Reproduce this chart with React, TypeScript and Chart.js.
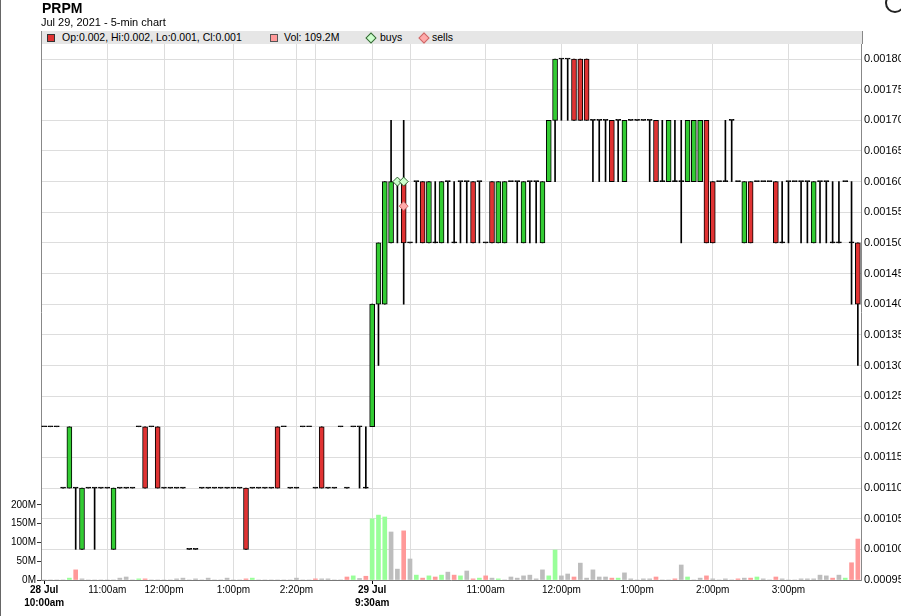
import React, { useEffect, useRef } from 'react';
import { Chart, registerables } from 'chart.js';

Chart.register(...registerables);

// 5-min candles (price in $), Jul 28 10:00am ... Jul 29 3:55pm
const openPx = [
  0.0012, 0.0012, 0.0012, 0.0011, 0.0011, 0.0011, 0.0010, 0.0011, 0.0011, 0.0011,
  0.0011, 0.0010, 0.0011, 0.0011, 0.0011, 0.0012, 0.0012, 0.0012, 0.0012, 0.0011,
  0.0011, 0.0011, 0.0011, 0.0010, 0.0010, 0.0011, 0.0011, 0.0011, 0.0011, 0.0011,
  0.0011, 0.0011, 0.0011, 0.0011, 0.0011, 0.0011, 0.0011, 0.0012, 0.0012, 0.0011,
  0.0011, 0.0012, 0.0012, 0.0011, 0.0012, 0.0011, 0.0011, 0.0012, 0.0011, 0.0012,
  0.0012, 0.0011, 0.0012, 0.0014, 0.0014, 0.0015, 0.0016, 0.0016, 0.0015, 0.0016,
  0.0016, 0.0015, 0.0015, 0.0015, 0.0016, 0.0015, 0.0016, 0.0016, 0.0016, 0.0016,
  0.0015, 0.0016, 0.0015, 0.0015, 0.0016, 0.0016, 0.0015, 0.0016, 0.0016, 0.0015,
  0.0016, 0.0017, 0.0018, 0.0018, 0.0018, 0.0018, 0.0018, 0.0017, 0.0017, 0.0017,
  0.0017, 0.0017, 0.0016, 0.0017, 0.0017, 0.0017, 0.0017, 0.0017, 0.0016, 0.0016,
  0.0016, 0.0016, 0.0016, 0.0016, 0.0016, 0.0017, 0.0016, 0.0016, 0.0016, 0.0017,
  0.0016, 0.0015, 0.0016, 0.0016, 0.0016, 0.0016, 0.0016, 0.0015, 0.0016, 0.0016,
  0.0016, 0.0016, 0.0015, 0.0016, 0.0016, 0.0015, 0.0015, 0.0016, 0.0015, 0.0015,
];
const highPx = [
  0.0012, 0.0012, 0.0012, 0.0011, 0.0012, 0.0011, 0.0011, 0.0011, 0.0011, 0.0011,
  0.0011, 0.0011, 0.0011, 0.0011, 0.0011, 0.0012, 0.0012, 0.0012, 0.0012, 0.0011,
  0.0011, 0.0011, 0.0011, 0.0010, 0.0010, 0.0011, 0.0011, 0.0011, 0.0011, 0.0011,
  0.0011, 0.0011, 0.0011, 0.0011, 0.0011, 0.0011, 0.0011, 0.0012, 0.0012, 0.0011,
  0.0011, 0.0012, 0.0012, 0.0011, 0.0012, 0.0011, 0.0011, 0.0012, 0.0011, 0.0012,
  0.0012, 0.0012, 0.0014, 0.0015, 0.0016, 0.0017, 0.0016, 0.0017, 0.0015, 0.0016,
  0.0016, 0.0016, 0.0016, 0.0016, 0.0016, 0.0016, 0.0016, 0.0016, 0.0016, 0.0016,
  0.0015, 0.0016, 0.0016, 0.0016, 0.0016, 0.0016, 0.0016, 0.0016, 0.0016, 0.0016,
  0.0017, 0.0018, 0.0018, 0.0018, 0.0018, 0.0018, 0.0018, 0.0017, 0.0017, 0.0017,
  0.0017, 0.0017, 0.0017, 0.0017, 0.0017, 0.0017, 0.0017, 0.0017, 0.0017, 0.0017,
  0.0017, 0.0017, 0.0017, 0.0017, 0.0017, 0.0017, 0.0016, 0.0016, 0.0017, 0.0017,
  0.0016, 0.0016, 0.0016, 0.0016, 0.0016, 0.0016, 0.0016, 0.0016, 0.0016, 0.0016,
  0.0016, 0.0016, 0.0016, 0.0016, 0.0016, 0.0016, 0.0016, 0.0016, 0.0016, 0.0015,
];
const lowPx = [
  0.0012, 0.0012, 0.0012, 0.0011, 0.0011, 0.0010, 0.0010, 0.0011, 0.0010, 0.0011,
  0.0011, 0.0010, 0.0011, 0.0011, 0.0011, 0.0012, 0.0011, 0.0012, 0.0011, 0.0011,
  0.0011, 0.0011, 0.0011, 0.0010, 0.0010, 0.0011, 0.0011, 0.0011, 0.0011, 0.0011,
  0.0011, 0.0011, 0.0010, 0.0011, 0.0011, 0.0011, 0.0011, 0.0011, 0.0012, 0.0011,
  0.0011, 0.0012, 0.0012, 0.0011, 0.0011, 0.0011, 0.0011, 0.0012, 0.0011, 0.0012,
  0.0011, 0.0011, 0.0012, 0.0013, 0.0014, 0.0015, 0.0015, 0.0014, 0.0015, 0.0015,
  0.0015, 0.0015, 0.0015, 0.0015, 0.0015, 0.0015, 0.0015, 0.0015, 0.0015, 0.0015,
  0.0015, 0.0015, 0.0015, 0.0015, 0.0016, 0.0015, 0.0015, 0.0015, 0.0015, 0.0015,
  0.0016, 0.0016, 0.0017, 0.0017, 0.0017, 0.0017, 0.0017, 0.0016, 0.0016, 0.0016,
  0.0016, 0.0016, 0.0016, 0.0017, 0.0017, 0.0017, 0.0016, 0.0016, 0.0016, 0.0016,
  0.0016, 0.0015, 0.0016, 0.0016, 0.0016, 0.0015, 0.0015, 0.0016, 0.0016, 0.0016,
  0.0016, 0.0015, 0.0015, 0.0016, 0.0016, 0.0016, 0.0015, 0.0015, 0.0015, 0.0016,
  0.0015, 0.0015, 0.0015, 0.0015, 0.0015, 0.0015, 0.0015, 0.0016, 0.0014, 0.0013,
];
const closePx = [
  0.0012, 0.0012, 0.0012, 0.0011, 0.0012, 0.0011, 0.0011, 0.0011, 0.0011, 0.0011,
  0.0011, 0.0011, 0.0011, 0.0011, 0.0011, 0.0012, 0.0011, 0.0012, 0.0011, 0.0011,
  0.0011, 0.0011, 0.0011, 0.0010, 0.0010, 0.0011, 0.0011, 0.0011, 0.0011, 0.0011,
  0.0011, 0.0011, 0.0010, 0.0011, 0.0011, 0.0011, 0.0011, 0.0011, 0.0012, 0.0011,
  0.0011, 0.0012, 0.0012, 0.0011, 0.0011, 0.0011, 0.0011, 0.0012, 0.0011, 0.0012,
  0.0012, 0.0011, 0.0014, 0.0015, 0.0016, 0.0016, 0.0016, 0.0015, 0.0015, 0.0016,
  0.0015, 0.0016, 0.0015, 0.0016, 0.0016, 0.0015, 0.0016, 0.0016, 0.0015, 0.0016,
  0.0015, 0.0015, 0.0016, 0.0016, 0.0016, 0.0016, 0.0016, 0.0016, 0.0016, 0.0016,
  0.0017, 0.0018, 0.0018, 0.0018, 0.0017, 0.0017, 0.0017, 0.0017, 0.0017, 0.0017,
  0.0016, 0.0017, 0.0017, 0.0017, 0.0017, 0.0017, 0.0017, 0.0016, 0.0016, 0.0017,
  0.0016, 0.0016, 0.0017, 0.0017, 0.0017, 0.0015, 0.0015, 0.0016, 0.0016, 0.0017,
  0.0016, 0.0016, 0.0015, 0.0016, 0.0016, 0.0016, 0.0015, 0.0015, 0.0016, 0.0016,
  0.0016, 0.0016, 0.0016, 0.0016, 0.0016, 0.0015, 0.0015, 0.0016, 0.0015, 0.0014,
];
// volume in millions of shares
const volumeM = [
  0, 0, 0, 0, 5, 27, 3, 0, 0, 0,
  0, 0, 5, 8, 0, 3, 3, 0, 0, 0,
  0, 3, 5, 0, 3, 0, 5, 0, 0, 5,
  0, 0, 3, 5, 0, 0, 0, 0, 0, 0,
  5, 0, 0, 3, 3, 3, 0, 0, 8, 11,
  4, 10, 163, 173, 168, 128, 29, 131, 56, 13,
  5, 11, 8, 13, 21, 13, 11, 24, 3, 5,
  11, 5, 3, 0, 8, 5, 11, 13, 3, 27,
  11, 80, 11, 16, 8, 45, 5, 27, 8, 8,
  5, 5, 19, 3, 0, 3, 3, 8, 0, 0,
  3, 40, 8, 0, 5, 11, 3, 0, 3, 0,
  3, 5, 5, 8, 3, 0, 8, 3, 0, 0,
  3, 3, 3, 13, 11, 5, 13, 5, 46, 109.2,
];
// volume bar tone: g = up, r = down, n = unchanged
const volumeDir = (
  'nnnngrnnnn' + 'nnnnngrnnn' + 'nnnnnnnnnn' + 'nnrgnnnnnn' + 'nnnrnnnnrg' +
  'nrgggnnrng' + 'rgrgnrgnrg' + 'rngnnnnnnn' + 'ggnnrnnnnn' + 'rgnnnnnrnn' +
  'rngnnrnnnn' + 'rnrgnnrnnn' + 'nnnnnrngrr'
).split('');

const xTickIndex = [0, 10, 19, 30, 40, 43, 52, 58, 70, 82, 94, 106, 118];
const xTickText = ['28 Jul\n10:00am', '11:00am', '12:00pm', '1:00pm', '2:20pm', '', '29 Jul\n9:30am', '', '11:00am', '12:00pm', '1:00pm', '2:00pm', '3:00pm'];
const xBoldTicks = [0, 52];
const priceTicks = [
  0.00095, 0.001, 0.00105, 0.0011, 0.00115, 0.0012, 0.00125, 0.0013, 0.00135,
  0.0014, 0.00145, 0.0015, 0.00155, 0.0016, 0.00165, 0.0017, 0.00175, 0.0018,
];
const volumeTicks = [0, 50, 100, 150, 200];
const buyIndex = [56, 57];
const buyPrice = [0.0016, 0.0016];
const sellIndex = [57];
const sellPrice = [0.00156];

const FAMILY = "'Liberation Sans', Arial, sans-serif";

export default function App() {
  const ref = useRef<HTMLCanvasElement>(null);

  useEffect(() => {
    const labels = closePx.map((_, i) => String(i));
    const up = '#33cc33';
    const dn = '#e03333';
    const bodyColors = closePx.map((c, i) => (c > openPx[i] ? up : c < openPx[i] ? dn : '#000'));
    const volColors = volumeDir.map((d) => (d === 'g' ? '#99ff99' : d === 'r' ? '#ff9999' : '#bdbdbd'));
    const buys: (number | null)[] = labels.map(() => null);
    buyIndex.forEach((ix, k) => (buys[ix] = buyPrice[k]));
    const sells: (number | null)[] = labels.map(() => null);
    sellIndex.forEach((ix, k) => (sells[ix] = sellPrice[k]));

    const chart = new Chart(ref.current as HTMLCanvasElement, {
      type: 'bar',
      data: {
        labels,
        datasets: [
          {
            type: 'line',
            label: 'buys',
            data: buys,
            showLine: false,
            pointStyle: 'rectRot',
            pointRadius: 4.5,
            pointBackgroundColor: '#ccffcc',
            pointBorderColor: '#336633',
            pointBorderWidth: 1,
            yAxisID: 'y',
            order: 0,
          } as any,
          {
            type: 'line',
            label: 'sells',
            data: sells,
            showLine: false,
            pointStyle: 'rectRot',
            pointRadius: 4.5,
            pointBackgroundColor: '#ffaaaa',
            pointBorderColor: '#cc6666',
            pointBorderWidth: 1,
            yAxisID: 'y',
            order: 0,
          } as any,
          {
            label: 'body',
            data: openPx.map((o, i) => [Math.min(o, closePx[i]), Math.max(o, closePx[i])]),
            backgroundColor: bodyColors,
            borderColor: '#000',
            borderWidth: 1,
            borderSkipped: false,
            barThickness: 5,
            minBarLength: 1,
            grouped: false,
            yAxisID: 'y',
            order: 1,
          } as any,
          {
            label: 'wick',
            data: lowPx.map((l, i) => [l, highPx[i]]),
            backgroundColor: '#000',
            borderWidth: 0,
            barThickness: 1,
            grouped: false,
            yAxisID: 'y',
            order: 2,
          } as any,
          {
            label: 'volume',
            data: volumeM,
            backgroundColor: volColors,
            borderWidth: 0,
            barThickness: 4,
            grouped: false,
            yAxisID: 'yv',
            order: 3,
          } as any,
        ],
      },
      options: {
        responsive: false,
        animation: false,
        events: [],
        layout: { padding: { top: 44, left: 0, right: 0, bottom: 0 } },
        plugins: { legend: { display: false }, tooltip: { enabled: false }, title: { display: false } },
        scales: {
          x: {
            type: 'category',
            offset: true,
            afterBuildTicks: (s: any) => {
              s.ticks = xTickIndex.map((v) => ({ value: v }));
            },
            afterFit: (s: any) => {
              s.height = 36;
            },
            grid: {
              offset: false,
              color: (ctx: any) => (ctx.tick && ctx.tick.value === 0 ? 'rgba(0,0,0,0)' : '#dddddd'),
              tickColor: (ctx: any) => (ctx.tick && xBoldTicks.includes(ctx.tick.value) ? '#000' : 'rgba(0,0,0,0)'),
              tickLength: 4,
              lineWidth: 1,
            },
            border: { color: '#777' },
            ticks: {
              autoSkip: false,
              maxRotation: 0,
              padding: 0,
              color: '#000',
              font: (ctx: any) => ({
                family: FAMILY,
                size: 10,
                lineHeight: 1.3,
                weight: ctx.tick && xBoldTicks.includes(ctx.tick.value) ? 'bold' : 'normal',
              }),
              callback: (value: any) => {
                const k = xTickIndex.indexOf(Number(value));
                const t = k >= 0 ? xTickText[k] : '';
                return t.includes('\n') ? t.split('\n') : t;
              },
            },
          } as any,
          y: {
            type: 'linear',
            position: 'right',
            min: 0.00095,
            max: 0.0018245,
            afterBuildTicks: (s: any) => {
              s.ticks = priceTicks.map((v) => ({ value: v }));
            },
            afterFit: (s: any) => {
              s.width = 69;
            },
            grid: { color: '#dddddd', drawTicks: false },
            border: { color: '#888' },
            ticks: {
              padding: 3,
              color: '#000',
              font: { family: FAMILY, size: 11 },
              callback: (v: any) => Number(v).toFixed(5),
            },
          } as any,
          yv: {
            type: 'linear',
            position: 'left',
            min: 0,
            max: 1429,
            afterBuildTicks: (s: any) => {
              s.ticks = volumeTicks.map((v) => ({ value: v }));
            },
            afterFit: (s: any) => {
              s.width = 41;
            },
            grid: { drawOnChartArea: false, tickLength: 4, tickColor: '#333' },
            border: { color: '#888' },
            ticks: {
              padding: 1,
              color: '#000',
              font: { family: FAMILY, size: 10 },
              callback: (v: any) => `${v}M`,
            },
          } as any,
        },
      },
    });
    return () => chart.destroy();
  }, []);

  const legendText: React.CSSProperties = {
    position: 'absolute',
    top: 0,
    fontSize: '10.5px',
    lineHeight: '13px',
    color: '#000',
    whiteSpace: 'nowrap',
  };
  const square = (left: number, color: string, border: string): React.CSSProperties => ({
    position: 'absolute',
    left,
    top: 3,
    width: 6,
    height: 6,
    background: color,
    border: `1px solid ${border}`,
  });
  const diamond = (left: number, color: string, border: string): React.CSSProperties => ({
    position: 'absolute',
    left,
    top: 3,
    width: 6,
    height: 6,
    background: color,
    border: `1px solid ${border}`,
    transform: 'rotate(45deg)',
  });

  return (
    <div
      style={{
        position: 'fixed',
        left: 0,
        top: 0,
        width: 901,
        height: 616,
        overflow: 'hidden',
        background: '#fff',
        fontFamily: FAMILY,
      }}
    >
      <canvas ref={ref} width={930} height={616} style={{ display: 'block', position: 'absolute', left: 0, top: 0 }} />
      <div style={{ position: 'absolute', left: 0, top: 0, width: 1, height: 616, background: '#666' }} />
      <div style={{ position: 'absolute', left: 42, top: 0, fontWeight: 'bold', fontSize: 14, lineHeight: '16px' }}>PRPM</div>
      <div style={{ position: 'absolute', left: 41, top: 16, fontSize: 11, lineHeight: '13px' }}>Jul 29, 2021 - 5-min chart</div>
      <div
        style={{
          position: 'absolute',
          left: 41,
          top: 31,
          width: 820,
          height: 13,
          background: '#e6e6e6',
          borderLeft: '1px solid #888',
          borderRight: '1px solid #888',
        }}
      >
        <div style={square(5, '#e03333', '#333')} />
        <span style={{ ...legendText, left: 20 }}>Op:0.002, Hi:0.002, Lo:0.001, Cl:0.001</span>
        <div style={square(228, '#ff9999', '#555')} />
        <span style={{ ...legendText, left: 242 }}>Vol: 109.2M</span>
        <div style={diamond(325, '#ccffcc', '#336633')} />
        <span style={{ ...legendText, left: 338 }}>buys</span>
        <div style={diamond(378, '#ffaaaa', '#cc6666')} />
        <span style={{ ...legendText, left: 390 }}>sells</span>
      </div>
      <div
        style={{
          position: 'absolute',
          left: 885,
          top: -7,
          width: 16,
          height: 16,
          borderRadius: '50%',
          border: '2px solid #222',
          background: '#fff',
        }}
      />
    </div>
  );
}
